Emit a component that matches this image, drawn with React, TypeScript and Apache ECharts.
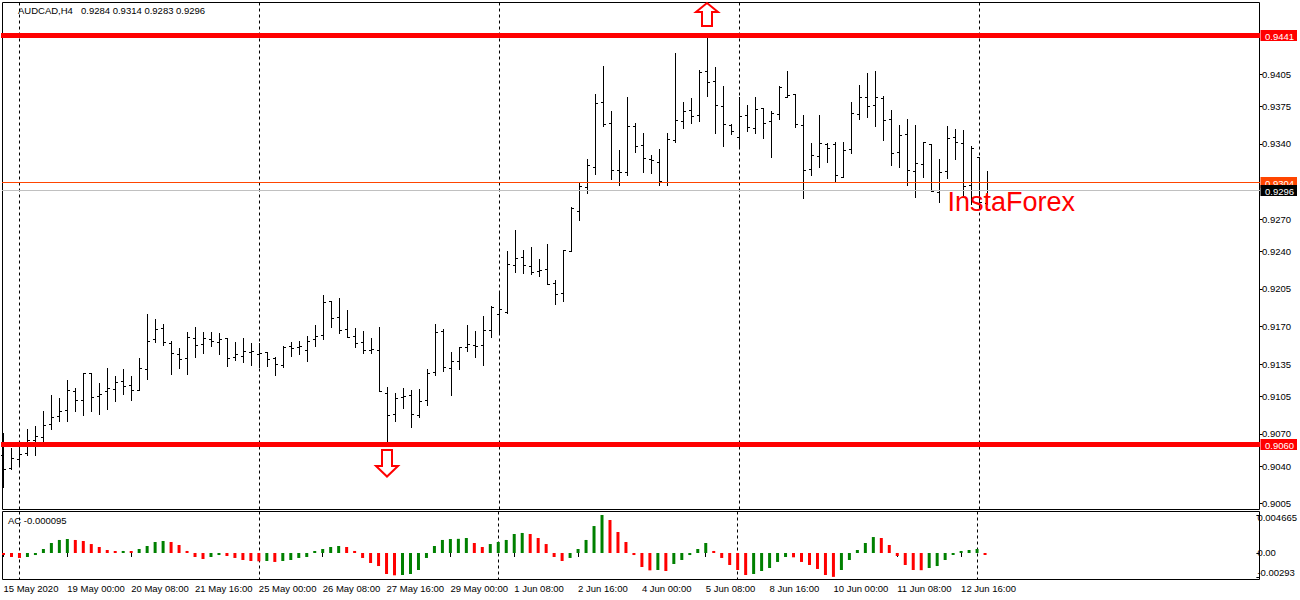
import React, { useEffect, useRef } from "react";
import * as echarts from "echarts";

const FONT = '"Liberation Sans", Arial, sans-serif';

const tickLabels = ["15 May 2020", "19 May 00:00", "20 May 08:00", "21 May 16:00", "25 May 00:00", "26 May 08:00", "27 May 16:00", "29 May 00:00", "1 Jun 08:00", "2 Jun 16:00", "4 Jun 00:00", "5 Jun 08:00", "8 Jun 16:00", "10 Jun 00:00", "11 Jun 08:00", "12 Jun 16:00"];

const opens = [
  0.9049, 0.9037, 0.9046, 0.9051, 0.9063, 0.9066, 0.9078, 0.9086, 0.9091, 0.9109,
  0.9101, 0.9126, 0.9104, 0.9109, 0.9111, 0.9118, 0.9115, 0.9110, 0.9129, 0.9157,
  0.9168, 0.9154, 0.9143, 0.9140, 0.9158, 0.9153, 0.9157, 0.9155, 0.9158, 0.9141,
  0.9142, 0.9145, 0.9143, 0.9145, 0.9140, 0.9133, 0.9151, 0.9150, 0.9147, 0.9157,
  0.9161, 0.9193, 0.9178, 0.9167, 0.9160, 0.9155, 0.9147, 0.9147, 0.9107, 0.9088,
  0.9103, 0.9105, 0.9087, 0.9101, 0.9127, 0.9165, 0.9130, 0.9137, 0.9150, 0.9152,
  0.9152, 0.9166, 0.9181, 0.9183, 0.9226, 0.9234, 0.9225, 0.9221, 0.9223, 0.9210,
  0.9200, 0.9239, 0.9277, 0.9299, 0.9318, 0.9378, 0.9359, 0.9315, 0.9313, 0.9356,
  0.9338, 0.9325, 0.9322, 0.9304, 0.9343, 0.9360, 0.9371, 0.9366, 0.9407, 0.9398,
  0.9374, 0.9357, 0.9346, 0.9366, 0.9354, 0.9373, 0.9360, 0.9367, 0.9383, 0.9386,
  0.9357, 0.9316, 0.9328, 0.9339, 0.9339, 0.9308, 0.9334, 0.9367, 0.9383, 0.9375,
  0.9382, 0.9362, 0.9332, 0.9348, 0.9314, 0.9320, 0.9339, 0.9294, 0.9314, 0.9346,
  0.9340, 0.9301, 0.9327, 0.9284,
];
const highs = [
  0.9070, 0.9056, 0.9061, 0.9074, 0.9076, 0.9090, 0.9105, 0.9102, 0.9119, 0.9112,
  0.9126, 0.9126, 0.9116, 0.9130, 0.9123, 0.9129, 0.9123, 0.9140, 0.9181, 0.9176,
  0.9171, 0.9156, 0.9149, 0.9164, 0.9169, 0.9164, 0.9164, 0.9163, 0.9158, 0.9155,
  0.9158, 0.9154, 0.9154, 0.9145, 0.9141, 0.9151, 0.9155, 0.9156, 0.9160, 0.9170,
  0.9198, 0.9193, 0.9196, 0.9184, 0.9168, 0.9165, 0.9158, 0.9169, 0.9113, 0.9107,
  0.9112, 0.9110, 0.9111, 0.9129, 0.9171, 0.9167, 0.9145, 0.9150, 0.9170, 0.9165,
  0.9179, 0.9188, 0.9200, 0.9239, 0.9259, 0.9240, 0.9243, 0.9232, 0.9246, 0.9212,
  0.9240, 0.9280, 0.9303, 0.9325, 0.9386, 0.9412, 0.9370, 0.9333, 0.9383, 0.9359,
  0.9349, 0.9329, 0.9334, 0.9349, 0.9424, 0.9378, 0.9382, 0.9408, 0.9441, 0.9411,
  0.9393, 0.9358, 0.9383, 0.9375, 0.9383, 0.9373, 0.9370, 0.9393, 0.9407, 0.9386,
  0.9366, 0.9340, 0.9366, 0.9340, 0.9341, 0.9341, 0.9378, 0.9394, 0.9405, 0.9407,
  0.9384, 0.9371, 0.9357, 0.9362, 0.9357, 0.9341, 0.9339, 0.9325, 0.9356, 0.9353,
  0.9352, 0.9337, 0.9327, 0.9314,
];
const lows = [
  0.9020, 0.9036, 0.9040, 0.9049, 0.9049, 0.9061, 0.9074, 0.9081, 0.9081, 0.9090,
  0.9087, 0.9090, 0.9088, 0.9092, 0.9100, 0.9106, 0.9101, 0.9110, 0.9120, 0.9155,
  0.9152, 0.9125, 0.9130, 0.9125, 0.9141, 0.9144, 0.9151, 0.9143, 0.9132, 0.9138,
  0.9136, 0.9133, 0.9131, 0.9132, 0.9124, 0.9131, 0.9142, 0.9143, 0.9137, 0.9151,
  0.9157, 0.9169, 0.9163, 0.9159, 0.9150, 0.9144, 0.9144, 0.9109, 0.9060, 0.9081,
  0.9093, 0.9075, 0.9085, 0.9096, 0.9124, 0.9128, 0.9105, 0.9129, 0.9146, 0.9141,
  0.9133, 0.9159, 0.9163, 0.9182, 0.9220, 0.9219, 0.9218, 0.9216, 0.9209, 0.9190,
  0.9193, 0.9239, 0.9268, 0.9293, 0.9311, 0.9356, 0.9306, 0.9301, 0.9310, 0.9332,
  0.9313, 0.9312, 0.9301, 0.9301, 0.9341, 0.9354, 0.9359, 0.9360, 0.9384, 0.9349,
  0.9337, 0.9348, 0.9336, 0.9351, 0.9349, 0.9345, 0.9327, 0.9362, 0.9383, 0.9355,
  0.9289, 0.9310, 0.9318, 0.9322, 0.9304, 0.9308, 0.9331, 0.9362, 0.9364, 0.9356,
  0.9343, 0.9319, 0.9318, 0.9301, 0.9290, 0.9308, 0.9295, 0.9285, 0.9307, 0.9325,
  0.9291, 0.9283, 0.9279, 0.9283,
];
const closes = [
  0.9036, 0.9047, 0.9050, 0.9063, 0.9067, 0.9077, 0.9085, 0.9090, 0.9110, 0.9101,
  0.9126, 0.9103, 0.9106, 0.9112, 0.9117, 0.9114, 0.9110, 0.9130, 0.9156, 0.9167,
  0.9155, 0.9144, 0.9139, 0.9159, 0.9152, 0.9158, 0.9156, 0.9157, 0.9140, 0.9143,
  0.9146, 0.9146, 0.9144, 0.9139, 0.9134, 0.9150, 0.9149, 0.9151, 0.9156, 0.9160,
  0.9192, 0.9177, 0.9166, 0.9159, 0.9154, 0.9147, 0.9148, 0.9109, 0.9087, 0.9102,
  0.9104, 0.9088, 0.9100, 0.9126, 0.9164, 0.9131, 0.9137, 0.9150, 0.9153, 0.9151,
  0.9166, 0.9187, 0.9185, 0.9227, 0.9233, 0.9226, 0.9220, 0.9222, 0.9209, 0.9199,
  0.9240, 0.9279, 0.9300, 0.9319, 0.9377, 0.9358, 0.9315, 0.9313, 0.9356, 0.9337,
  0.9326, 0.9324, 0.9305, 0.9344, 0.9361, 0.9370, 0.9365, 0.9406, 0.9397, 0.9375,
  0.9358, 0.9351, 0.9365, 0.9355, 0.9372, 0.9359, 0.9368, 0.9392, 0.9385, 0.9358,
  0.9315, 0.9329, 0.9340, 0.9335, 0.9310, 0.9333, 0.9368, 0.9383, 0.9374, 0.9383,
  0.9361, 0.9331, 0.9347, 0.9315, 0.9321, 0.9341, 0.9295, 0.9313, 0.9345, 0.9341,
  0.9300, 0.9335, 0.9285, 0.9296,
];
const acValues = [
  -0.00021, -0.00049, -0.00061, -0.00049, -0.00025, 0.00049, 0.00123, 0.0016, 0.00172, 0.0016,
  0.00147, 0.0011, 0.00074, 0.00037, 0.00022, 0.00025, 0.00023, 0.00049, 0.00086, 0.00135,
  0.00147, 0.00135, 0.00098, 0.00025, -0.00049, -0.00074, -0.00049, -0.00025, -0.00037, -0.00061,
  -0.00086, -0.00098, -0.00102, -0.00098, -0.0011, -0.00098, -0.00086, -0.00061, -0.00049, 0.00006,
  0.00049, 0.00074, 0.00086, 0.00074, 0.00025, -0.00061, -0.00123, -0.0016, -0.00258, -0.00274,
  -0.0027, -0.00258, -0.00209, -0.00061, 0.00086, 0.0016, 0.00172, 0.00174, 0.00184, 0.00123,
  0.00074, 0.0011, 0.00135, 0.0016, 0.00233, 0.00246, 0.00233, 0.00184, 0.0011, -0.00049,
  -0.00098, -0.00061, 0.00049, 0.0016, 0.00331, 0.004665, 0.00405, 0.00258, 0.00135, -0.00025,
  -0.00172, -0.00213, -0.00209, -0.00221, -0.00135, -0.00086, -0.00025, 0.00049, 0.00123, 0.00025,
  -0.00061, -0.00147, -0.00209, -0.0027, -0.00258, -0.00221, -0.00184, -0.0011, -0.00049, -0.00053,
  -0.0011, -0.00147, -0.00196, -0.0027, -0.00293, -0.00209, -0.00086, 0.00037, 0.00123, 0.00196,
  0.00184, 0.00098, -0.00037, -0.00147, -0.00209, -0.00211, -0.00184, -0.0016, -0.00086, -0.00012,
  0.00025, 0.00037, 0.00049, -0.000095,
];

const priceTicks = [0.9405, 0.9375, 0.934, 0.927, 0.924, 0.9205, 0.917, 0.9135, 0.9105, 0.907, 0.904, 0.9005];
const acTicks = [0.004665, 0, -0.00293];
const supportResistance = [0.9441, 0.906];
const bidAskLines = [0.9304, 0.9296];
const bidAskColors = ["#ff4500", "#c0c0c0"];
const bidAskTagColors = ["#ff4500", "#000000"];
const arrowMarks = [
  [88, 0.9441, 1],
  [48, 0.906, -1],
];
const headerSymbol = "AUDCAD,H4";
const headerPrices = "0.9284 0.9314 0.9283 0.9296";
const acLabel = "AC -0.000095";
const watermark = "InstaForex";

const TOTAL_SLOTS = 158;
const categories = Array.from({ length: TOTAL_SLOTS }, (_, i) =>
  i % 8 === 0 && i / 8 < tickLabels.length ? tickLabels[i / 8] : ""
);
const ohlc = opens.map((o, i) => [i, o, highs[i], lows[i], closes[i]]);
const isLabelSlot = (i: number) => i % 8 === 0 && i / 8 < tickLabels.length;
const isDashSlot = (i: number) => i % 30 === 2 && i < opens.length;
const snap = (y: number) => Math.round(y) - 0.5;

function tagChildren(yRaw: number, text: string, bg: string) {
  const y = snap(yRaw);
  return [
    { type: "rect", shape: { x: 1260.5, y: Math.round(y - 5.5), width: 36.5, height: 11 }, style: { fill: bg } },
    {
      type: "text",
      style: { x: 1265, y: y + 0.5, text, fill: "#fff", fontSize: 9.5, fontFamily: FONT, verticalAlign: "middle", align: "left" },
    },
  ];
}

export default function App() {
  const ref = useRef<HTMLDivElement>(null);
  useEffect(() => {
    const chart = echarts.init(ref.current!, null, { renderer: "svg" });
    const xCommon = {
      type: "category" as const,
      data: categories,
      boundaryGap: false,
      splitLine: {
        show: true,
        interval: (i: number) => isDashSlot(i),
        lineStyle: { color: "#000", width: 1, type: [3, 3] as any },
      },
      axisLine: { show: false },
    };
    chart.setOption({
      animation: false,
      backgroundColor: "#fff",
      grid: [
        { left: 3.5, top: 2.5, width: 1256, height: 507 },
        { left: 3.5, top: 511.5, width: 1256, height: 68 },
      ],
      xAxis: [
        { ...xCommon, gridIndex: 0, axisTick: { show: false }, axisLabel: { show: false } },
        {
          ...xCommon,
          gridIndex: 1,
          axisTick: { show: true, length: 4, interval: (i: number) => isLabelSlot(i), lineStyle: { color: "#000" } },
          axisLabel: {
            show: true,
            interval: (i: number) => isLabelSlot(i),
            align: "left",
            margin: 4,
            color: "#000",
            fontSize: 9.5,
            fontFamily: FONT,
          },
        },
      ],
      yAxis: [
        {
          type: "value",
          gridIndex: 0,
          position: "right",
          min: 0.899953,
          max: 0.947174,
          splitLine: { show: false },
          axisLine: { show: false },
          axisTick: { show: true, length: 3, customValues: priceTicks, lineStyle: { color: "#000" } },
          axisLabel: {
            show: true,
            customValues: priceTicks,
            margin: 2.5,
            color: "#000",
            fontSize: 9.5,
            fontFamily: FONT,
            formatter: (v: number) => v.toFixed(4),
          },
        },
        {
          type: "value",
          gridIndex: 1,
          position: "right",
          min: -0.003253,
          max: 0.005094,
          splitLine: { show: false },
          axisLine: { show: false },
          axisTick: { show: true, length: 3, customValues: acTicks, lineStyle: { color: "#000" } },
          axisLabel: {
            show: true,
            customValues: acTicks,
            margin: 1,
            color: "#000",
            fontSize: 9.5,
            fontFamily: FONT,
            formatter: (v: number) =>
              v === 0 ? "0.00" : v > 0 ? `{top|${v}}` : `{bot|${v}}`,
            rich: {
              top: { padding: [6, 0, 0, 0], fontSize: 9.5, fontFamily: FONT, color: "#000" },
              bot: { padding: [0, 0, 8, 0], fontSize: 9.5, fontFamily: FONT, color: "#000" },
            },
          },
        },
      ],
      series: [
        {
          name: "AUDCAD",
          type: "custom",
          xAxisIndex: 0,
          yAxisIndex: 0,
          data: ohlc,
          encode: { x: 0, y: [1, 2, 3, 4] },
          z: 3,
          renderItem: (_: any, api: any) => {
            const i = api.value(0);
            const x = api.coord([i, api.value(1)])[0];
            const yO = snap(api.coord([i, api.value(1)])[1]);
            const yH = snap(api.coord([i, api.value(2)])[1]);
            const yL = snap(api.coord([i, api.value(3)])[1]);
            const yC = snap(api.coord([i, api.value(4)])[1]);
            const style = { stroke: "#000", lineWidth: 1, fill: "none" };
            return {
              type: "group",
              children: [
                { type: "line", shape: { x1: x, y1: yH - 0.5, x2: x, y2: yL + 0.5 }, style },
                { type: "line", shape: { x1: x - 2.5, y1: yO, x2: x, y2: yO }, style },
                { type: "line", shape: { x1: x, y1: yC, x2: x + 2.5, y2: yC }, style },
              ],
            };
          },
        },
        {
          name: "Bid/Ask",
          type: "custom",
          xAxisIndex: 0,
          yAxisIndex: 0,
          data: bidAskLines.map((v, i) => [0, v, i]),
          encode: { x: 0, y: 1 },
          z: 4,
          renderItem: (_: any, api: any) => {
            const v = api.value(1);
            const k = api.value(2);
            const yRaw = api.coord([0, v])[1];
            const y = snap(yRaw);
            return {
              type: "group",
              children: [
                { type: "line", shape: { x1: 2, y1: y, x2: 1260, y2: y }, style: { stroke: bidAskColors[k], lineWidth: 1 } },
                ...tagChildren(yRaw, v.toFixed(4), bidAskTagColors[k]),
              ],
            };
          },
        },
        {
          name: "Levels",
          type: "custom",
          xAxisIndex: 0,
          yAxisIndex: 0,
          data: supportResistance.map((v) => [0, v]),
          encode: { x: 0, y: 1 },
          z: 5,
          renderItem: (_: any, api: any) => {
            const v = api.value(1);
            const yRaw = api.coord([0, v])[1];
            const y = snap(yRaw);
            return {
              type: "group",
              children: [
                { type: "line", shape: { x1: 1, y1: y, x2: 1260, y2: y }, style: { stroke: "#ff0000", lineWidth: 5 } },
                ...tagChildren(yRaw, v.toFixed(4), "#ff0000"),
              ],
            };
          },
        },
        {
          name: "Arrows",
          type: "custom",
          xAxisIndex: 0,
          yAxisIndex: 0,
          data: arrowMarks,
          encode: { x: 0, y: 1 },
          z: 6,
          renderItem: (_: any, api: any) => {
            const p = api.coord([api.value(0), api.value(1)]);
            const x = p[0] - 0.5;
            const y = snap(p[1]);
            const up = api.value(2) > 0;
            const ys = up ? [y - 9.5, y - 23.5, y - 32.5] : [y + 5.5, y + 21.5, y + 32];
            return {
              type: "polygon",
              shape: {
                points: [
                  [x - 5, ys[0]],
                  [x - 5, ys[1]],
                  [x - 11, ys[1]],
                  [x, ys[2]],
                  [x + 11, ys[1]],
                  [x + 5, ys[1]],
                  [x + 5, ys[0]],
                ],
              },
              style: { fill: "#fff", stroke: "#ff0000", lineWidth: 2 },
            };
          },
        },
        {
          name: "AC",
          type: "bar",
          xAxisIndex: 1,
          yAxisIndex: 1,
          data: acValues,
          barWidth: 3,
          barMinHeight: 2,
          z: 3,
          itemStyle: {
            color: (p: any) =>
              p.dataIndex > 0 && acValues[p.dataIndex] > acValues[p.dataIndex - 1] ? "#008000" : "#ff0000",
          },
        },
      ],
      graphic: [
        {
          type: "rect",
          z: 0,
          shape: { x: 2.5, y: 2.5, width: 1257, height: 507 },
          style: { fill: "none", stroke: "#000", lineWidth: 1 },
        },
        {
          type: "rect",
          z: 0,
          shape: { x: 2.5, y: 511.5, width: 1257, height: 68 },
          style: { fill: "none", stroke: "#000", lineWidth: 1 },
        },
        {
          type: "text",
          z: 20,
          x: 18,
          y: 10.5,
          style: { text: headerSymbol, fontSize: 9.5, fontFamily: FONT, fill: "#000", verticalAlign: "middle" },
        },
        {
          type: "text",
          z: 20,
          x: 81,
          y: 10.5,
          style: { text: headerPrices, fontSize: 9.5, fontFamily: FONT, fill: "#000", verticalAlign: "middle" },
        },
        {
          type: "text",
          z: 20,
          x: 8,
          y: 520.5,
          style: { text: acLabel, fontSize: 9.5, fontFamily: FONT, fill: "#000", verticalAlign: "middle" },
        },
        {
          type: "text",
          z: 20,
          x: 947.5,
          y: 201.5,
          style: { text: watermark, fontSize: 27, fontFamily: FONT, fill: "#ff0000", verticalAlign: "middle" },
        },
      ],
    });
    return () => chart.dispose();
  }, []);
  return <div ref={ref} style={{ position: "fixed", left: 0, top: 0, width: 1300, height: 600 }} />;
}
